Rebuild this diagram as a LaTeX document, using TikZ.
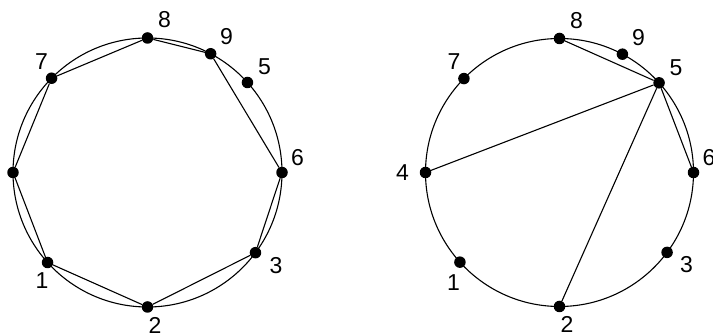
\documentclass[tikz,border=0pt]{standalone}
\usepackage{fontspec}
\setmainfont{Liberation Sans}
\begin{document}
\begin{tikzpicture}[x=1pt,y=1pt,
  ring/.style={line width=1.1pt},
  chord/.style={line width=1.1pt},
  dot/.style={circle,fill=black,inner sep=0pt,minimum size=11.5pt},
  num/.style={font=\fontsize{23}{23}\selectfont,inner sep=0pt}]
\useasboundingbox (0,0) rectangle (713,334);
% ---------- left circle ----------
\coordinate (LC) at (147.5,161.5);
\draw[ring] (LC) circle (134.5);
\node[dot] (L8) at ([shift={(90:134.5)}]LC) {};
\node[dot] (L9) at ([shift={(62:134.5)}]LC) {};
\node[dot] (L5) at ([shift={(42:134.5)}]LC) {};
\node[dot] (L6) at ([shift={(0:134.5)}]LC) {};
\node[dot] (L3) at ([shift={(-36.6:134.5)}]LC) {};
\node[dot] (L2) at ([shift={(-90:134.5)}]LC) {};
\node[dot] (L1) at ([shift={(222:134.5)}]LC) {};
\node[dot] (L4) at ([shift={(180:134.5)}]LC) {};
\node[dot] (L7) at ([shift={(135.5:134.5)}]LC) {};
\draw[chord] (L7) -- (L8) -- (L9) -- (L6) -- (L3) -- (L2) -- (L1) -- (L4) -- (L7);
\node[num] (tL8) at ([shift={(17,18)}]L8) {8};
\node[num] (tL9) at ([shift={(16,17)}]L9) {9};
\node[num] (tL5) at ([shift={(17,15.5)}]L5) {5};
\node[num] (tL6) at ([shift={(15.5,15)}]L6) {6};
\node[num] (tL3) at ([shift={(20.5,-12.5)}]L3) {3};
\node[num] (tL2) at ([shift={(7.5,-18)}]L2) {2};
\node[num] (tL1) at ([shift={(-5.5,-18.5)}]L1) {1};
\node[num] (tL7) at ([shift={(-10,16.5)}]L7) {7};
% ---------- right circle ----------
\coordinate (RC) at (559.5,161.5);
\draw[ring] (RC) circle (134);
\node[dot] (R8) at ([shift={(90:134)}]RC) {};
\node[dot] (R9) at ([shift={(62:134)}]RC) {};
\node[dot] (R5) at ([shift={(42:134)}]RC) {};
\node[dot] (R6) at ([shift={(0:134)}]RC) {};
\node[dot] (R3) at ([shift={(-36.6:134)}]RC) {};
\node[dot] (R2) at ([shift={(-90:134)}]RC) {};
\node[dot] (R1) at ([shift={(222:134)}]RC) {};
\node[dot] (R4) at ([shift={(180:134)}]RC) {};
\node[dot] (R7) at ([shift={(135.5:134)}]RC) {};
\draw[chord] (R8) -- (R5);
\draw[chord] (R4) -- (R5);
\draw[chord] (R2) -- (R5);
\draw[chord] (R5) -- (R6);
\node[num] (tR8) at ([shift={(17,18)}]R8) {8};
\node[num] (tR9) at ([shift={(16,17)}]R9) {9};
\node[num] (tR5) at ([shift={(17,15.5)}]R5) {5};
\node[num] (tR6) at ([shift={(15.5,15)}]R6) {6};
\node[num] (tR3) at ([shift={(19.5,-12.5)}]R3) {3};
\node[num] (tR2) at ([shift={(7.5,-18)}]R2) {2};
\node[num] (tR1) at ([shift={(-6.5,-20)}]R1) {1};
\node[num] (tR7) at ([shift={(-10,16.5)}]R7) {7};
\node[num] (tR4) at ([shift={(-23,0)}]R4) {4};
\end{tikzpicture}
\end{document}
